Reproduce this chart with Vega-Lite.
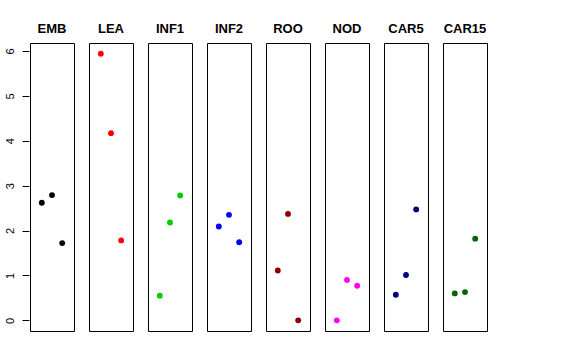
{
  "$schema": "https://vega.github.io/schema/vega-lite/v6.json",
  "padding": {"left": 4, "top": 23, "right": 0, "bottom": 0},
  "background": "white",
  "config": {
    "font": "Liberation Sans",
    "view": {"stroke": "#000000", "strokeWidth": 1},
    "facet": {"spacing": 13}
  },
  "data": {
    "values": [
      {"tissue": "EMB", "x": 1, "y": 2.62},
      {"tissue": "EMB", "x": 2, "y": 2.79},
      {"tissue": "EMB", "x": 3, "y": 1.72},
      {"tissue": "LEA", "x": 1, "y": 5.94},
      {"tissue": "LEA", "x": 2, "y": 4.17},
      {"tissue": "LEA", "x": 3, "y": 1.78},
      {"tissue": "INF1", "x": 1, "y": 0.55},
      {"tissue": "INF1", "x": 2, "y": 2.18},
      {"tissue": "INF1", "x": 3, "y": 2.78},
      {"tissue": "INF2", "x": 1, "y": 2.09},
      {"tissue": "INF2", "x": 2, "y": 2.35},
      {"tissue": "INF2", "x": 3, "y": 1.74},
      {"tissue": "ROO", "x": 1, "y": 1.11},
      {"tissue": "ROO", "x": 2, "y": 2.37},
      {"tissue": "ROO", "x": 3, "y": 0.0},
      {"tissue": "NOD", "x": 1, "y": 0.0},
      {"tissue": "NOD", "x": 2, "y": 0.9},
      {"tissue": "NOD", "x": 3, "y": 0.77},
      {"tissue": "CAR5", "x": 1, "y": 0.57},
      {"tissue": "CAR5", "x": 2, "y": 1.01},
      {"tissue": "CAR5", "x": 3, "y": 2.47},
      {"tissue": "CAR15", "x": 1, "y": 0.6},
      {"tissue": "CAR15", "x": 2, "y": 0.63},
      {"tissue": "CAR15", "x": 3, "y": 1.82}
    ]
  },
  "facet": {
    "column": {
      "field": "tissue",
      "type": "nominal",
      "sort": ["EMB", "LEA", "INF1", "INF2", "ROO", "NOD", "CAR5", "CAR15"],
      "title": null,
      "header": {
        "labelFontSize": 13,
        "labelFontWeight": "bold",
        "labelColor": "#000000",
        "labelFont": "Liberation Sans",
        "labelPadding": 6
      }
    }
  },
  "spec": {
    "width": 44,
    "height": 288,
    "mark": {"type": "point", "filled": true, "opacity": 1, "size": 34},
    "encoding": {
      "x": {
        "field": "x",
        "type": "quantitative",
        "scale": {"domain": [-0.16, 4.16], "nice": false, "zero": false},
        "axis": null
      },
      "y": {
        "field": "y",
        "type": "quantitative",
        "scale": {"domain": [-0.2376, 6.1776], "nice": false, "zero": false},
        "axis": {
          "title": null,
          "values": [0, 1, 2, 3, 4, 5, 6],
          "grid": false,
          "domain": false,
          "tickColor": "#000000",
          "tickSize": 7,
          "labelAngle": 270,
          "labelAlign": "center",
          "labelBaseline": "bottom",
          "labelPadding": 7,
          "labelFontSize": 11,
          "labelColor": "#000000",
          "labelFont": "Liberation Sans"
        }
      },
      "color": {
        "field": "tissue",
        "type": "nominal",
        "scale": {
          "domain": ["EMB", "LEA", "INF1", "INF2", "ROO", "NOD", "CAR5", "CAR15"],
          "range": ["#000000", "#FF0000", "#00CD00", "#0000FF", "#8B0000", "#FF00FF", "#000080", "#006400"]
        },
        "legend": null
      }
    }
  }
}
